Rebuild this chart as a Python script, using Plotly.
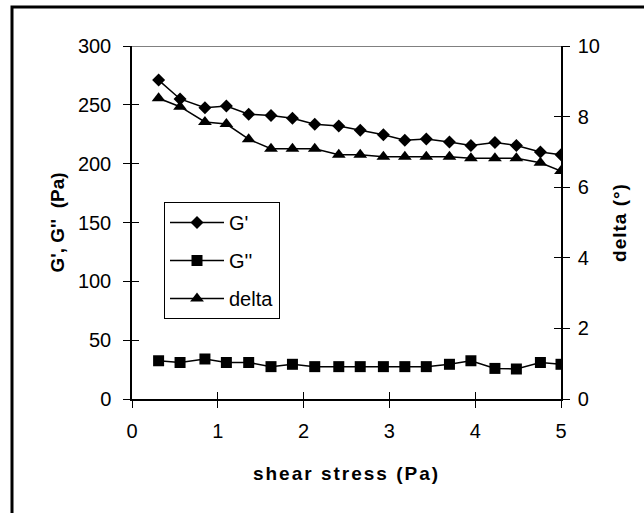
import plotly.graph_objects as go

stress = [0.31, 0.56, 0.85, 1.10, 1.36, 1.62, 1.87, 2.13, 2.41, 2.66, 2.93, 3.18, 3.43, 3.70, 3.95, 4.23, 4.48, 4.76, 5.00]
g_prime = [271, 255, 247.5, 249, 242, 241, 238.5, 233.5, 232, 228.5, 224.5, 220, 221, 218.5, 215.5, 218, 215.5, 210, 207.5]
g_double = [32.5, 31, 34, 31, 31, 27.5, 29.5, 27.5, 27.5, 27.5, 27.5, 27.5, 27.5, 29.5, 32.5, 26, 25.5, 31, 29.5]
delta = [8.52, 8.28, 7.85, 7.79, 7.36, 7.09, 7.09, 7.09, 6.92, 6.92, 6.86, 6.86, 6.86, 6.86, 6.82, 6.82, 6.82, 6.69, 6.46]

x_ticks = [0, 1, 2, 3, 4, 5]
y_ticks = [0, 50, 100, 150, 200, 250, 300]
y2_ticks = [0, 2, 4, 6, 8, 10]

FONT = "Liberation Sans, Arial, sans-serif"
L, R, T, B = 132, 83, 46, 114
W, H = 644, 513
PW, PH = W - L - R, H - T - B

def px(xp):
    return (xp - L) / PW

def py(yp):
    return (H - B - yp) / PH

fig = go.Figure()
fig.add_trace(go.Scatter(x=stress, y=g_prime, name="G'", mode="lines+markers",
                         line=dict(color="black", width=1.5),
                         marker=dict(symbol="diamond", size=10, color="black"),
                         legendgroup="a"))
fig.add_trace(go.Scatter(x=stress, y=g_double, name="G''", mode="lines+markers",
                         line=dict(color="black", width=1.5),
                         marker=dict(symbol="square", size=11, color="black"),
                         legendgroup="b"))
fig.add_trace(go.Scatter(x=stress, y=delta, name="delta", mode="lines+markers",
                         yaxis="y2",
                         line=dict(color="black", width=1.5),
                         marker=dict(symbol="triangle-up", size=12, color="black"),
                         legendgroup="c"))

TS = 20
tickfont = dict(family=FONT, size=TS, color="black")
fig.update_layout(
    width=W, height=H,
    margin=dict(l=L, r=R, t=T, b=B),
    paper_bgcolor="white", plot_bgcolor="white",
    font=dict(family=FONT, size=TS, color="black"),
    showlegend=True,
    legend=dict(x=px(164), y=py(202), xanchor="left", yanchor="top",
                bordercolor="black", borderwidth=1, bgcolor="white",
                font=dict(family=FONT, size=TS, color="black"),
                tracegroupgap=9, itemwidth=54),
    xaxis=dict(range=[0, 5], tickvals=x_ticks, ticktext=[str(v) for v in x_ticks],
               showgrid=False, zeroline=False, showline=True, linecolor="black", linewidth=1.5,
               ticks="outside", ticklen=7, tickcolor="black", tickfont=tickfont,
               ticklabelstandoff=6,
               title=dict(text="<b><span style='letter-spacing:2px'>shear stress (Pa)</span></b>",
                          font=dict(family=FONT, size=19), standoff=26)),
    yaxis=dict(range=[0, 300], tickvals=y_ticks, showgrid=False, zeroline=False,
               showline=True, linecolor="black", linewidth=1.5,
               ticks="outside", ticklen=7, tickcolor="black", tickfont=tickfont,
               ticklabelstandoff=8,
               title=dict(text="<b>G', G''  (Pa)</b>",
                          font=dict(family=FONT, size=19), standoff=8)),
    yaxis2=dict(range=[0, 10], tickvals=y2_ticks, overlaying="y", side="right",
                showgrid=False, zeroline=False, showline=True, linecolor="black", linewidth=1.5,
                ticks="outside", ticklen=7, tickcolor="black", tickfont=tickfont,
                ticklabelstandoff=4,
                title=dict(text="<b><span style='letter-spacing:1px'>delta (°)</span></b>",
                           font=dict(family=FONT, size=19), standoff=14)),
    xaxis3=dict(range=[0, 5], tickvals=x_ticks, overlaying="x", showticklabels=False,
                showgrid=False, zeroline=False, ticks="inside", ticklen=7, tickcolor="black"),
    yaxis3=dict(range=[0, 300], tickvals=y_ticks, overlaying="y", showticklabels=False,
                showgrid=False, zeroline=False, ticks="inside", ticklen=7, tickcolor="black"),
    yaxis4=dict(range=[0, 10], tickvals=y2_ticks, overlaying="y", side="right", showticklabels=False,
                showgrid=False, zeroline=False, ticks="inside", ticklen=7, tickcolor="black"),
)
# dummy invisible traces to activate overlay axes
fig.add_trace(go.Scatter(x=[None], y=[None], xaxis="x3", yaxis="y3", showlegend=False, hoverinfo="skip"))
fig.add_trace(go.Scatter(x=[None], y=[None], yaxis="y4", showlegend=False, hoverinfo="skip"))

# top gray line at 300 and outer frame
fig.add_shape(type="line", xref="paper", yref="y", x0=px(125), x1=1, y0=300, y1=300,
              line=dict(color="#808080", width=2), layer="below")
fig.add_shape(type="rect", xref="paper", yref="paper",
              x0=px(12), x1=px(660), y0=py(530), y1=py(7),
              line=dict(color="black", width=3))

fig.write_html("out.html")
